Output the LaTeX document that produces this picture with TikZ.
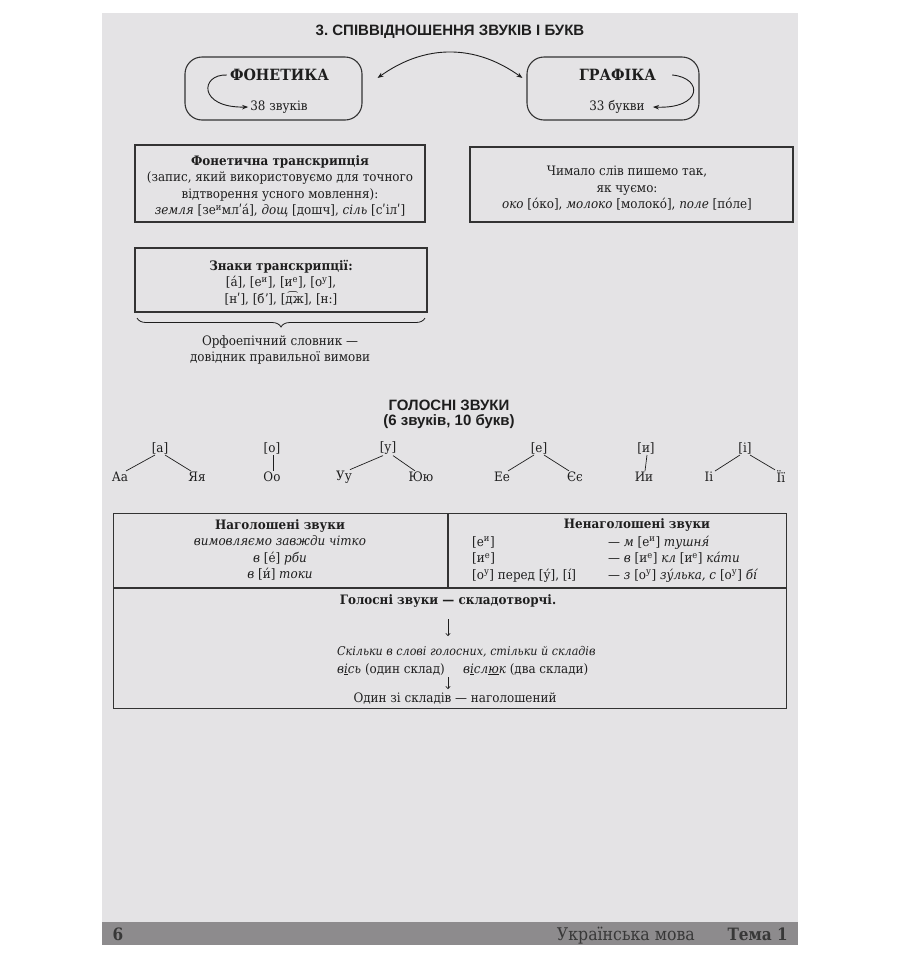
\documentclass[tikz,border=0pt]{standalone}
\usepackage{fontspec}
\setmainfont{DejaVu Serif}[FakeStretch=0.92]
\newfontfamily\footfont{DejaVu Serif}[FakeStretch=0.9]
\newfontfamily\titlesans{Liberation Sans}
\usetikzlibrary{arrows.meta,decorations.pathreplacing}
\definecolor{pagebg}{HTML}{E4E3E5}
\definecolor{ink}{HTML}{1E1E1E}
\definecolor{framec}{HTML}{333333}
\definecolor{barc}{HTML}{8D8B8D}
\definecolor{bartxt}{HTML}{383838}
\newcommand{\supx}[1]{\textsuperscript{#1}}
\tikzset{
  body/.style={font=\fontsize{13}{16.5}\selectfont, text=ink, inner sep=0pt, align=center},
  boxline/.style={draw=framec, line width=1.1pt},
  rbox/.style={boxline, rounded corners=17pt},
  hdr/.style={font=\bfseries\fontsize{15.5}{17}\selectfont, text=ink, inner sep=0pt},
  sanshead/.style={font=\titlesans\bfseries\fontsize{15}{17}\selectfont, text=ink, inner sep=0pt},
  conn/.style={draw=ink, line width=0.9pt},
  tipend/.style={-{Stealth[length=6pt,width=4.5pt]}},
  tipboth/.style={{Stealth[length=6pt,width=4.5pt]}-{Stealth[length=6pt,width=4.5pt]}},
  smallarrow/.style={draw=ink, line width=0.6pt, -{To[length=3pt,width=5pt]}},
  vowel/.style={body, inner sep=1pt},
  stem/.style={draw=ink, line width=0.7pt},
  rowtext/.style={body, anchor=base west},
}
\begin{document}
\begin{tikzpicture}[x=1pt,y=-1pt]
\fill[white] (0,0) rectangle (900,959);
\useasboundingbox (0,0) rectangle (900,959);
\fill[pagebg] (102,13) rectangle (798,945);
\fill[barc] (102,922) rectangle (798,945);

% title
\node[sanshead] (title) at (450,32) {3.\ СПІВВІДНОШЕННЯ ЗВУКІВ І БУКВ};

% Фонетика / Графіка
\node[rbox, minimum width=177pt, minimum height=63pt] (fbox) at (273.5,88.5) {};
\node[hdr] (fon) at (279.5,75) {ФОНЕТИКА};
\node[body] (n38) at (279,107) {38 звуків};
\draw[conn,tipend] ([xshift=-3pt]fon.west) .. controls (200,74) and (198,108) .. ([xshift=-2pt]n38.west);

\node[rbox, minimum width=172pt, minimum height=63pt] (gbox) at (613,88.5) {};
\node[hdr] (gra) at (617.5,75) {ГРАФІКА};
\node[body] (n33) at (617,107) {33 букви};
\draw[conn,tipend] ([xshift=16pt]gra.east) .. controls (704,78) and (702,109) .. ([xshift=8pt]n33.east);

\draw[conn,tipboth] ([xshift=15pt,yshift=10.5pt]fbox.east) .. controls (425,44) and (475,44) .. ([xshift=-4pt,yshift=10.5pt]gbox.west);

% transcription box
\node[boxline, minimum width=290pt, minimum height=77pt] (trbox) at (280,183.5) {};
\node[body] (trtext) at (280,186.5) {\textbf{Фонетична транскрипція}\\(запис, який використовуємо для точного\\відтворення усного мовлення):\\\textit{земля} [зе\supx{и}млʹа́], \textit{дощ} [дошч], \textit{сіль} [сʹілʹ]};

% Чимало box
\node[boxline, minimum width=323pt, minimum height=75pt] (chbox) at (631.5,184.5) {};
\node[body] (chtext) at (627,188.5) {Чимало слів пишемо так,\\як чуємо:\\\textit{око} [о́ко], \textit{молоко} [молоко́], \textit{поле} [по́ле]};

% Знаки box
\node[boxline, minimum width=292pt, minimum height=64pt] (znbox) at (281,280) {};
\node[body] (zntext) at (281,282.5) {\textbf{Знаки транскрипції:}\\{}[а́], [е\supx{и}], [и\supx{е}], [о\supx{у}],\\{}[нʹ], [бʼ], [д͡ж], [н:]};

\coordinate (brl) at (137,318);
\coordinate (brr) at (425,318);
\draw[conn, line width=0.8pt, decorate, decoration={brace, amplitude=9pt, mirror}] (brl) -- (brr);
\node[body] (orf) at (280,350) {Орфоепічний словник —\\довідник правильної вимови};

% vowels
\node[sanshead] (gz) at (449,405) {ГОЛОСНІ ЗВУКИ};
\node[sanshead] (gzn) at (449,422) {(6 звуків, 10 букв)};

\node[vowel] (va) at (160,448) {[а]};
\node[vowel] (laa) at (120,477) {Аа};
\node[vowel] (lya) at (197,477) {Яя};
\node[vowel] (vo) at (272,448) {[о]};
\node[vowel] (loo) at (272,477) {Оо};
\node[vowel] (vu) at (388,448) {[у]};
\node[vowel] (luu) at (344,477) {Уу};
\node[vowel] (lyu) at (421,477) {Юю};
\node[vowel] (ve) at (539,448) {[е]};
\node[vowel] (lee) at (502,477) {Ее};
\node[vowel] (lye) at (575,477) {Єє};
\node[vowel] (vy) at (646,448) {[и]};
\node[vowel] (lyy) at (644,477) {Ии};
\node[vowel] (vi) at (745,448) {[і]};
\node[vowel] (lii) at (709,477) {Іі};
\node[vowel] (lyi) at (781,477) {Її};

\draw[stem] ([xshift=-5pt]va.south) -- ([xshift=6pt]laa.north);
\draw[stem] ([xshift=5pt]va.south) -- ([xshift=-6pt]lya.north);
\draw[stem] ([xshift=1pt]vo.south) -- ([xshift=1pt]loo.north);
\draw[stem] ([xshift=-5pt]vu.south) -- ([xshift=6pt]luu.north);
\draw[stem] ([xshift=5pt]vu.south) -- ([xshift=-6pt]lyu.north);
\draw[stem] ([xshift=-5pt]ve.south) -- ([xshift=6pt]lee.north);
\draw[stem] ([xshift=5pt]ve.south) -- ([xshift=-6pt]lye.north);
\draw[stem] ([xshift=1pt]vy.south) -- ([xshift=1pt]lyy.north);
\draw[stem] ([xshift=-5pt]vi.south) -- ([xshift=6pt]lii.north);
\draw[stem] ([xshift=5pt]vi.south) -- ([xshift=-6pt]lyi.north);

% table
\node[boxline, minimum width=673pt, minimum height=195pt, anchor=north west] (tbl) at (113,513) {};
\draw[boxline] (448,513) -- (448,588);
\draw[boxline] (113,588) -- (786,588);

\node[body] (stressed) at (280,550) {\textbf{Наголошені звуки}\\\textit{вимовляємо завжди чітко}\\\textit{в} [е́] \textit{рби}\\\textit{в} [и́] \textit{токи}};

\node[body] (unstr) at (637,525) {\textbf{Ненаголошені звуки}};
\node[rowtext] (r1a) at (472,546) {[е\supx{и}]};
\node[rowtext] (r1b) at (608,546) {— \textit{м} [е\supx{и}] \textit{тушня́}};
\node[rowtext] (r2a) at (472,562.5) {[и\supx{е}]};
\node[rowtext] (r2b) at (608,562.5) {— \textit{в} [и\supx{е}] \textit{кл} [и\supx{е}] \textit{ка́ти}};
\node[rowtext] (r3a) at (472,579) {[о\supx{у}] перед [у́], [í]};
\node[rowtext] (r3b) at (608,579) {— \textit{з} [о\supx{у}] \textit{зу́лька, с} [о\supx{у}] \textit{бí}};

\node[body] (syl) at (448,601) {\textbf{Голосні звуки — складотворчі.}};
\node[body, anchor=west, font=\fontsize{12.1}{16}\selectfont] (many) at (337,652) {\textit{Скільки в слові голосних, стільки й складів}};
\node[rowtext] (vis) at (337,673) {\textit{в\underline{і}сь} (один склад)};
\node[rowtext] (vislyuk) at (463,673) {\textit{в\underline{і}сл\underline{ю}к} (два склади)};
\node[body] (one) at (455,699) {Один зі складів — наголошений};
\coordinate (a1s) at (448,619);
\coordinate (a1e) at (448,636);
\draw[smallarrow] (a1s) -- (a1e);
\coordinate (a2s) at (448,677);
\coordinate (a2e) at (448,689);
\draw[smallarrow] (a2s) -- (a2e);

% footer
\node[font=\footfont\bfseries\fontsize{17}{19}\selectfont, text=bartxt, inner sep=0pt] (pg) at (118,934) {6};
\node[font=\footfont\fontsize{17.5}{19}\selectfont, text=bartxt, inner sep=0pt, anchor=base east] (subj) at (695,940) {Українська мова};
\node[font=\footfont\bfseries\fontsize{17}{19}\selectfont, text=bartxt, inner sep=0pt, anchor=base east] (topic) at (788,940) {Тема 1};
\end{tikzpicture}
\end{document}
